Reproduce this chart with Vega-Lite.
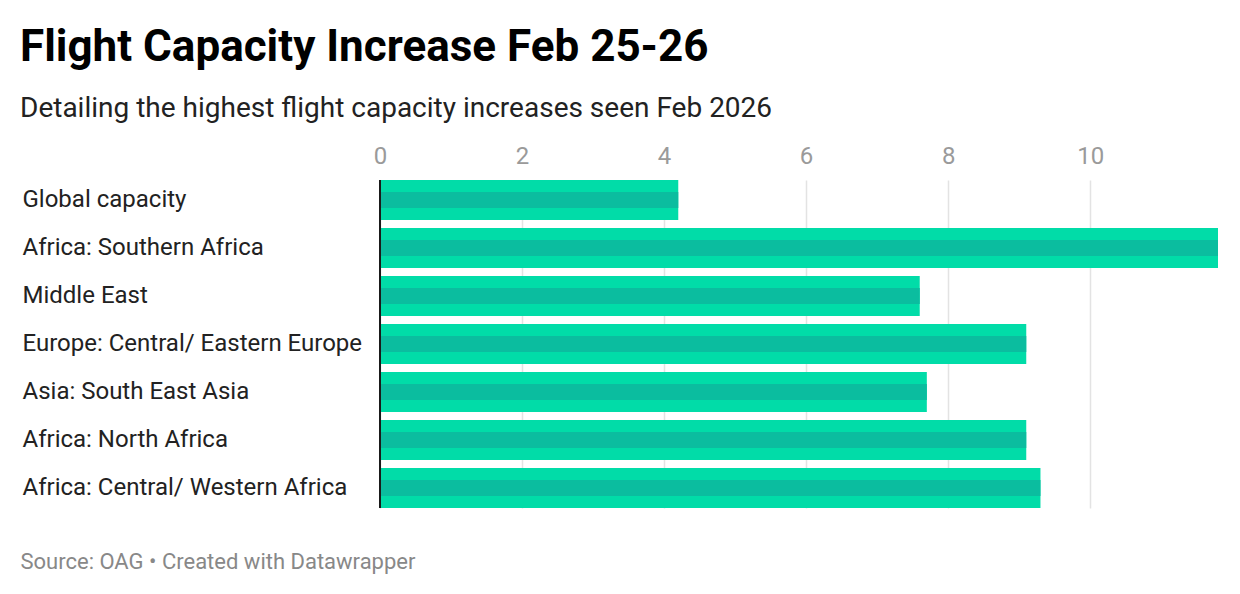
{
  "$schema": "https://vega.github.io/schema/vega-lite/v6.json",
  "autosize": "none",
  "width": 838,
  "height": 328,
  "padding": {"left": 380, "top": 180, "right": 22, "bottom": 86},
  "background": "#ffffff",
  "config": {
    "font": "Roboto",
    "view": {"stroke": null}
  },
  "title": {
    "text": "Flight Capacity Increase Feb 25-26",
    "subtitle": "Detailing the highest flight capacity increases seen Feb 2026",
    "anchor": "start",
    "frame": "group",
    "dx": -360,
    "offset": 21,
    "font": "Roboto",
    "fontSize": 44,
    "fontWeight": "bold",
    "color": "#000000",
    "subtitleFont": "Roboto",
    "subtitleFontSize": 28,
    "subtitleColor": "#222222",
    "subtitlePadding": 25
  },
  "data": {
    "values": [
      {"region": "Global capacity", "increase": 4.2},
      {"region": "Africa: Southern Africa", "increase": 11.8},
      {"region": "Middle East", "increase": 7.6},
      {"region": "Europe: Central/ Eastern Europe", "increase": 9.1},
      {"region": "Asia: South East Asia", "increase": 7.7},
      {"region": "Africa: North Africa", "increase": 9.1},
      {"region": "Africa: Central/ Western Africa", "increase": 9.3}
    ]
  },
  "resolve": {"axis": {"x": "independent"}},
  "layer": [
    {
      "mark": {"type": "bar", "color": "#01dca8"},
      "encoding": {
        "y": {
          "field": "region",
          "type": "nominal",
          "sort": null,
          "scale": {"paddingInner": 0.1667, "paddingOuter": 0},
          "axis": {
            "title": null,
            "domain": false,
            "ticks": false,
            "labelAlign": "left",
            "labelPadding": 358,
            "labelLimit": 400,
            "labelFont": "Roboto",
            "labelFontSize": 24,
            "labelColor": "#222222"
          }
        },
        "x": {
          "field": "increase",
          "type": "quantitative",
          "scale": {"domain": [0, 11.8], "nice": false},
          "axis": {
            "orient": "top",
            "title": null,
            "values": [0, 2, 4, 6, 8, 10],
            "domain": false,
            "ticks": false,
            "grid": true,
            "gridColor": "#e3e3e3",
            "gridWidth": 1.5,
            "labelFlush": false,
            "labelPadding": 12,
            "labelFont": "Roboto",
            "labelFontSize": 24,
            "labelColor": "#9a9a9a"
          }
        }
      }
    },
    {
      "mark": {"type": "bar", "color": "#0bbd9f", "height": 16},
      "encoding": {
        "y": {"field": "region", "type": "nominal", "sort": null},
        "x": {"field": "increase", "type": "quantitative", "axis": null}
      }
    },
    {
      "mark": {"type": "rule", "color": "#1a1a1a", "strokeWidth": 2},
      "encoding": {
        "x": {
          "datum": 0,
          "type": "quantitative",
          "axis": {
            "orient": "bottom",
            "labels": false,
            "ticks": false,
            "domain": false,
            "grid": false,
            "title": "Source: OAG • Created with Datawrapper",
            "titleAnchor": "start",
            "titleAlign": "left",
            "titleBaseline": "alphabetic",
            "titleX": -360,
            "titleY": 60,
            "titleFont": "Roboto",
            "titleFontSize": 22,
            "titleFontWeight": "normal",
            "titleColor": "#888888"
          }
        }
      }
    }
  ]
}
